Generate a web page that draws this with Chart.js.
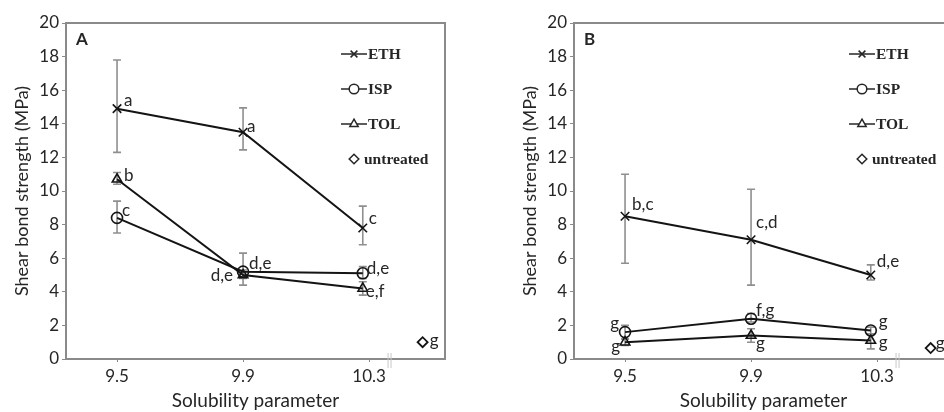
<!DOCTYPE html>
<html>
<head>
<meta charset="utf-8">
<script src="https://cdn.jsdelivr.net/npm/chart.js@4.4.1/dist/chart.umd.min.js"></script>
<style>
  html, body { margin: 0; padding: 0; background: #fff; overflow: hidden; width: 944px; height: 412px; }
  .panel { position: absolute; top: 0; width: 470px; height: 412px; }
  #wrapA { left: 0; }
  #wrapB { left: 508px; }
</style>
</head>
<body>
<div class="panel" id="wrapA"><canvas id="chartA" width="470" height="412"></canvas></div>
<div class="panel" id="wrapB"><canvas id="chartB" width="470" height="412"></canvas></div>
<script>
// x positions of the solvent points and the axis ticks
const solubility = [9.5, 9.9, 10.28];
const xTicks = [9.5, 9.9, 10.3];
const xTickLabels = ['9.5', '9.9', '10.3'];
const untreatedX = 10.47;
const seriesNames = ['ETH', 'ISP', 'TOL', 'untreated'];

// panel A
const ethA = [14.9, 13.5, 7.8];
const ethA_hi = [17.8, 14.95, 9.1];
const ethA_lo = [12.3, 12.45, 6.8];
const ispA = [8.4, 5.2, 5.1];
const ispA_hi = [9.4, 6.3, 5.5];
const ispA_lo = [7.5, 4.4, 4.8];
const tolA = [10.7, 5.0, 4.2];
const tolA_hi = [11.1, 5.3, 4.6];
const tolA_lo = [10.4, 4.8, 3.8];
const untreatedA = 1.0;
const ethA_letters = ['a', 'a', 'c'];
const ispA_letters = ['c', 'd,e', 'd,e'];
const tolA_letters = ['b', 'd,e', 'e,f'];
const untreatedA_letter = 'g';

// panel B
const ethB = [8.5, 7.1, 5.0];
const ethB_hi = [11.0, 10.1, 5.6];
const ethB_lo = [5.7, 4.4, 4.7];
const ispB = [1.6, 2.4, 1.7];
const ispB_hi = [2.0, 2.7, 1.9];
const ispB_lo = [1.2, 2.2, 1.5];
const tolB = [1.0, 1.4, 1.1];
const tolB_hi = [1.2, 1.8, 1.5];
const tolB_lo = [0.8, 1.0, 0.6];
const untreatedB = 0.65;
const ethB_letters = ['b,c', 'c,d', 'd,e'];
const ispB_letters = ['g', 'f,g', 'g'];
const tolB_letters = ['g', 'g', 'g'];
const untreatedB_letter = 'g';

// where each letter sits relative to its point: [dx, dy, align]
const letterPosA = [
  [[7, -8, 'left'], [4, -6, 'left'], [6, -9, 'left']],
  [[5, -7, 'left'], [6, -8, 'left'], [4, -5, 'left']],
  [[7, -4, 'left'], [-10, 1, 'right'], [3, 3, 'left']],
  [[7, -2, 'left']]
];
const letterPosB = [
  [[7, -12, 'left'], [5, -17, 'left'], [6, -13, 'left']],
  [[-6, -9, 'right'], [5, -8, 'left'], [8, -9, 'left']],
  [[-5, 4, 'right'], [5, 8, 'left'], [8, 2, 'left']],
  [[5, -5, 'left']]
];

const axisGrey = '#8a8a8a';
const textCol = '#262626';
const sansFont = 'Lato, "Open Sans", sans-serif';

function pts(ys) {
  return ys.map((y, i) => ({ x: solubility[i], y: y }));
}

function lineSet(label, ys, hi, lo, letters, style) {
  return {
    label: label,
    data: pts(ys),
    errHi: hi,
    errLo: lo,
    letters: letters,
    borderColor: '#141414',
    borderWidth: 2,
    pointStyle: style,
    pointRadius: style === 'crossRot' ? 6 : 5.5,
    pointBorderColor: '#141414',
    pointBackgroundColor: 'rgba(255,255,255,0)',
    pointBorderWidth: 1.6,
    tension: 0
  };
}

const panelPlugin = {
  id: 'panelPlugin',
  beforeDatasetsDraw(chart) {
    const ctx = chart.ctx;
    const xs = chart.scales.x, ys = chart.scales.y;
    ctx.save();
    ctx.strokeStyle = '#8f8f8f';
    ctx.lineWidth = 1.6;
    chart.data.datasets.forEach(ds => {
      if (!ds.errHi) return;
      ds.data.forEach((p, i) => {
        const px = xs.getPixelForValue(p.x);
        const yh = ys.getPixelForValue(ds.errHi[i]);
        const yl = ys.getPixelForValue(ds.errLo[i]);
        ctx.beginPath();
        ctx.moveTo(px, yh); ctx.lineTo(px, yl);
        ctx.moveTo(px - 4, yh); ctx.lineTo(px + 4, yh);
        ctx.moveTo(px - 4, yl); ctx.lineTo(px + 4, yl);
        ctx.stroke();
      });
    });
    ctx.restore();
  },
  afterDraw(chart, args, opts) {
    const ctx = chart.ctx;
    const a = chart.chartArea;
    const xs = chart.scales.x, ys = chart.scales.y;
    ctx.save();
    // frame top and right
    ctx.strokeStyle = axisGrey;
    ctx.lineWidth = 2;
    ctx.beginPath();
    ctx.moveTo(a.left, a.top); ctx.lineTo(a.right, a.top); ctx.lineTo(a.right, a.bottom);
    ctx.stroke();

    // axis break mark
    const bx = xs.getPixelForValue(10.365);
    ctx.strokeStyle = '#c8c8c8';
    ctx.lineWidth = 1;
    ctx.beginPath();
    ctx.moveTo(bx - 1.5, a.bottom - 6); ctx.lineTo(bx - 1.5, a.bottom + 9);
    ctx.moveTo(bx + 1.5, a.bottom - 6); ctx.lineTo(bx + 1.5, a.bottom + 9);
    ctx.stroke();

    // significance letters
    ctx.fillStyle = textCol;
    ctx.font = '17px ' + sansFont;
    ctx.textBaseline = 'middle';
    chart.data.datasets.forEach((ds, di) => {
      ds.data.forEach((p, i) => {
        const pos = opts.letterPos[di][i];
        ctx.textAlign = pos[2];
        ctx.fillText(ds.letters[i], xs.getPixelForValue(p.x) + pos[0], ys.getPixelForValue(p.y) + pos[1]);
      });
    });

    // panel letter
    ctx.font = 'bold 17px ' + sansFont;
    ctx.textAlign = 'left';
    ctx.fillText(opts.panel, a.left + 10, a.top + 17);

    // legend
    const lx = a.left + 275;
    ctx.font = 'bold 15.5px "Liberation Serif", serif';
    chart.data.datasets.forEach((ds, di) => {
      const y = a.top + 31 + di * 35;
      ctx.strokeStyle = '#262626';
      ctx.fillStyle = '#fff';
      if (ds.showLine !== false) {
        ctx.lineWidth = 1.5;
        ctx.beginPath();
        ctx.moveTo(lx, y); ctx.lineTo(lx + 26, y);
        ctx.stroke();
      }
      ctx.lineWidth = 1.5;
      Chart.helpers.drawPoint(ctx, { pointStyle: ds.pointStyle, radius: 4.8, borderWidth: 1.5, rotation: 0 }, lx + 13, y);
      ctx.fillStyle = textCol;
      ctx.textAlign = 'left';
      ctx.fillText(ds.label, ds.showLine !== false ? lx + 27 : lx + 23, y + 1);
    });
    ctx.restore();
  }
};

function makeChart(id, panel, eth, ethHi, ethLo, ethL, isp, ispHi, ispLo, ispL, tol, tolHi, tolLo, tolL, unt, untL, letterPos) {
  return new Chart(document.getElementById(id), {
    type: 'line',
    data: {
      datasets: [
        lineSet(seriesNames[0], eth, ethHi, ethLo, ethL, 'crossRot'),
        lineSet(seriesNames[1], isp, ispHi, ispLo, ispL, 'circle'),
        lineSet(seriesNames[2], tol, tolHi, tolLo, tolL, 'triangle'),
        {
          label: seriesNames[3],
          data: [{ x: untreatedX, y: unt }],
          letters: [untL],
          showLine: false,
          pointStyle: 'rectRot',
          pointRadius: 5,
          pointBorderColor: '#141414',
          pointBackgroundColor: 'rgba(255,255,255,0)',
          pointBorderWidth: 1.8
        }
      ]
    },
    options: {
      responsive: false,
      animation: false,
      devicePixelRatio: 1,
      layout: { padding: { top: 23, right: 25, left: 0, bottom: 0 } },
      plugins: {
        legend: { display: false },
        tooltip: { enabled: false },
        panelPlugin: { panel: panel, letterPos: letterPos }
      },
      scales: {
        x: {
          type: 'linear',
          min: 9.338,
          max: 10.541,
          afterBuildTicks: s => { s.ticks = xTicks.map(v => ({ value: v })); },
          afterFit: s => { s.height = 53; },
          ticks: {
            callback: (v, i) => xTickLabels[i],
            color: textCol,
            font: { family: sansFont, size: 17 },
            padding: 4,
            maxRotation: 0
          },
          grid: { drawOnChartArea: false, drawTicks: true, tickLength: 3, color: axisGrey },
          border: { color: axisGrey, width: 2 },
          title: {
            display: true,
            text: 'Solubility parameter',
            color: textCol,
            font: { family: sansFont, size: 19 },
            padding: { top: 4, bottom: 0 }
          }
        },
        y: {
          min: 0,
          max: 20,
          afterFit: s => { s.width = 66; },
          ticks: {
            stepSize: 2,
            color: textCol,
            font: { family: sansFont, size: 17 },
            padding: 3
          },
          grid: { drawOnChartArea: false, drawTicks: true, tickLength: 4, color: axisGrey },
          border: { color: axisGrey, width: 2 },
          title: {
            display: true,
            text: 'Shear bond strength (MPa)',
            color: textCol,
            font: { family: sansFont, size: 18 },
            padding: { top: 11, bottom: 0 }
          }
        }
      }
    },
    plugins: [panelPlugin]
  });
}

makeChart('chartA', 'A', ethA, ethA_hi, ethA_lo, ethA_letters, ispA, ispA_hi, ispA_lo, ispA_letters,
  tolA, tolA_hi, tolA_lo, tolA_letters, untreatedA, untreatedA_letter, letterPosA);
makeChart('chartB', 'B', ethB, ethB_hi, ethB_lo, ethB_letters, ispB, ispB_hi, ispB_lo, ispB_letters,
  tolB, tolB_hi, tolB_lo, tolB_letters, untreatedB, untreatedB_letter, letterPosB);
</script>
</body>
</html>
